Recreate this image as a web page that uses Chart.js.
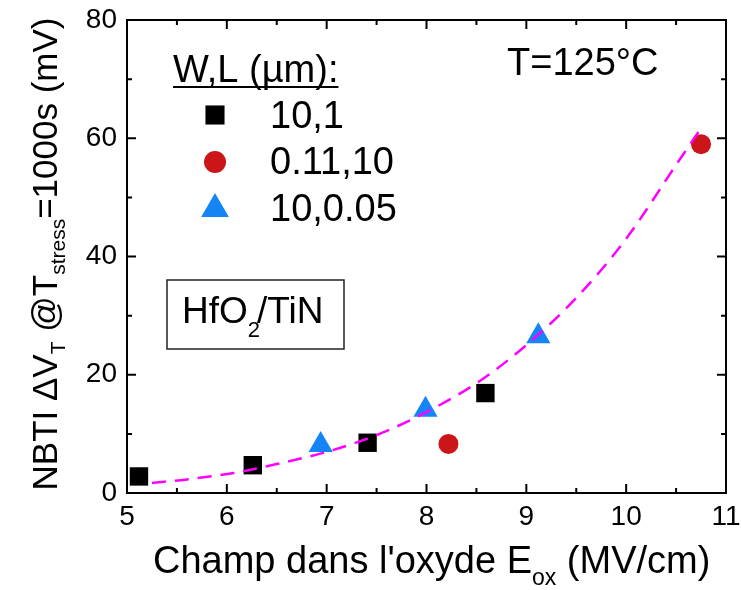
<!DOCTYPE html>
<html>
<head>
<meta charset="utf-8">
<script src="https://cdn.jsdelivr.net/npm/chart.js@4.4.1/dist/chart.umd.min.js"></script>
<style>
  html, body { margin: 0; padding: 0; background: #fff; }
  canvas { display: block; }
</style>
</head>
<body>
<canvas id="nbtiChart" width="741" height="590"></canvas>
<script>
// tick labels
var xTicks = [5, 6, 7, 8, 9, 10, 11];
var yTicks = [0, 20, 40, 60, 80];

// W,L = 10,1 (squares)
var sqX = [5.12, 6.26, 7.41, 8.59];
var sqY = [2.8, 4.7, 8.5, 16.9];

// W,L = 0.11,10 (circles)
var ciX = [8.22, 10.75];
var ciY = [8.3, 59.0];

// W,L = 10,0.05 (triangles)
var trX = [6.94, 7.99, 9.12];
var trY = [8.1, 14.1, 26.5];

// dashed fit curve
var fitX = [5.25, 5.6, 6.07, 6.5, 7.01, 7.5, 7.99, 8.53, 9.02, 9.5, 10.0, 10.5, 10.73];
var fitY = [1.7, 2.3, 3.4, 4.9, 7.0, 9.8, 13.6, 18.9, 25.3, 33.0, 43.0, 55.5, 61.2];

var FONT = '"Liberation Sans", Arial, sans-serif';
Chart.defaults.font.family = FONT;
Chart.defaults.color = '#000';

function pts(xs, ys) {
    return xs.map(function (x, i) { return { x: x, y: ys[i] }; });
}

// text with subscripts: parts = [{t, size, dy}]
function richWidth(ctx, parts) {
    var w = 0;
    parts.forEach(function (p) {
        ctx.font = p.size + 'px ' + FONT;
        w += ctx.measureText(p.t).width + (p.kern || 0);
    });
    return w;
}
function drawRich(ctx, parts, x, y) {
    parts.forEach(function (p) {
        ctx.font = p.size + 'px ' + FONT;
        ctx.fillText(p.t, x, y + (p.dy || 0));
        x += ctx.measureText(p.t).width + (p.kern || 0);
    });
}

var squareStyle = { pointStyle: 'rect', color: '#000000' };
var circleStyle = { pointStyle: 'circle', color: '#cc1518' };
var triStyle = { pointStyle: 'triangle', color: '#1585f5' };

// frame with inside ticks on all four sides, plus labels/legend
var decorations = {
    id: 'decorations',
    afterDraw: function (chart) {
        var ctx = chart.ctx, a = chart.chartArea;
        var xs = chart.scales.x, ys = chart.scales.y;
        ctx.save();
        ctx.strokeStyle = '#000';
        ctx.lineWidth = 2;
        ctx.strokeRect(a.left, a.top, a.right - a.left, a.bottom - a.top);

        function xTick(v, len) {
            var px = xs.getPixelForValue(v);
            ctx.beginPath();
            ctx.moveTo(px, a.bottom); ctx.lineTo(px, a.bottom - len);
            ctx.moveTo(px, a.top); ctx.lineTo(px, a.top + len);
            ctx.stroke();
        }
        function yTick(v, len) {
            var py = ys.getPixelForValue(v);
            ctx.beginPath();
            ctx.moveTo(a.left, py); ctx.lineTo(a.left + len, py);
            ctx.moveTo(a.right, py); ctx.lineTo(a.right - len, py);
            ctx.stroke();
        }
        xTicks.forEach(function (v, i) {
            xTick(v, 9);
            if (i < xTicks.length - 1) xTick((v + xTicks[i + 1]) / 2, 5);
        });
        yTicks.forEach(function (v, i) {
            yTick(v, 9);
            if (i < yTicks.length - 1) yTick((v + yTicks[i + 1]) / 2, 5);
        });

        ctx.fillStyle = '#000';
        ctx.textBaseline = 'alphabetic';
        ctx.textAlign = 'left';

        // x axis title
        var xParts = [
            { t: 'Champ dans l\'oxyde E', size: 38 },
            { t: 'ox', size: 23, dy: 12 },
            { t: ' (MV/cm)', size: 38 }
        ];
        drawRich(ctx, xParts, 153, 573);

        // y axis title (rotated)
        var yParts = [
            { t: 'NBTI \u0394V', size: 35 },
            { t: 'T', size: 21, dy: 8 },
            { t: ' @T', size: 35 },
            { t: 'stress', size: 21, dy: 8 },
            { t: '=1000s (mV)', size: 35 }
        ];
        var yw = richWidth(ctx, yParts);
        ctx.save();
        ctx.translate(57, 254);
        ctx.rotate(-Math.PI / 2);
        drawRich(ctx, yParts, -yw / 2, 0);
        ctx.restore();

        // legend
        ctx.font = '38px ' + FONT;
        var title = 'W,L (\u00b5m):';
        ctx.fillText(title, 173, 82);
        var tw = ctx.measureText(title).width;
        ctx.lineWidth = 2;
        ctx.beginPath();
        ctx.moveTo(173, 87); ctx.lineTo(173 + tw, 87);
        ctx.stroke();

        var entries = [
            { label: '10,1', st: squareStyle, r: 13.5, y: 115, base: 128 },
            { label: '0.11,10', st: circleStyle, r: 11, y: 162, base: 174 },
            { label: '10,0.05', st: triStyle, r: 16, y: 209, base: 221 }
        ];
        entries.forEach(function (e) {
            ctx.fillStyle = e.st.color;
            Chart.helpers.drawPoint(ctx, { pointStyle: e.st.pointStyle, radius: e.r, rotation: 0, borderWidth: 0 }, 215, e.y);
            ctx.fillStyle = '#000';
            ctx.font = '38px ' + FONT;
            ctx.fillText(e.label, 270, e.base);
        });

        // temperature
        ctx.font = '38px ' + FONT;
        ctx.fillText('T=125\u00b0C', 507, 75);

        // material box
        ctx.strokeStyle = '#222';
        ctx.lineWidth = 1.5;
        ctx.strokeRect(167, 280, 177, 69);
        drawRich(ctx, [
            { t: 'HfO', size: 37 },
            { t: '2', size: 22, dy: 14, kern: -3 },
            { t: '/TiN', size: 37 }
        ], 182, 323);

        ctx.restore();
    }
};

var ctx = document.getElementById('nbtiChart').getContext('2d');

var nbtiChart = new Chart(ctx, {
    type: 'scatter',
    data: {
        datasets: [
            {
                label: 'fit',
                type: 'line',
                data: pts(fitX, fitY),
                borderColor: '#ff00ff',
                borderWidth: 2.5,
                borderDash: [14, 9],
                pointRadius: 0,
                fill: false,
                cubicInterpolationMode: 'monotone',
                order: 0
            },
            {
                label: '10,1',
                data: pts(sqX, sqY),
                pointStyle: squareStyle.pointStyle,
                backgroundColor: squareStyle.color,
                pointRadius: 13,
                borderWidth: 0,
                order: 1,
                clip: false
            },
            {
                label: '0.11,10',
                data: pts(ciX, ciY),
                pointStyle: circleStyle.pointStyle,
                backgroundColor: circleStyle.color,
                pointRadius: 10,
                borderWidth: 0,
                order: 1,
                clip: false
            },
            {
                label: '10,0.05',
                data: pts(trX, trY),
                pointStyle: triStyle.pointStyle,
                backgroundColor: triStyle.color,
                pointRadius: 14,
                borderWidth: 0,
                order: 1,
                clip: false
            }
        ]
    },
    options: {
        responsive: false,
        animation: false,
        layout: { padding: { top: 20, right: 15, left: 0, bottom: 0 } },
        plugins: {
            legend: { display: false },
            tooltip: { enabled: false }
        },
        scales: {
            x: {
                type: 'linear',
                min: 5,
                max: 11,
                afterBuildTicks: function (s) { s.ticks = xTicks.map(function (v) { return { value: v }; }); },
                afterFit: function (s) {
                    s.height = 97;
                    s.paddingLeft = 0;
                    s.paddingRight = 0;
                },
                ticks: { font: { size: 28 }, color: '#000', padding: 7, maxRotation: 0 },
                grid: { display: false, drawTicks: false },
                border: { display: false }
            },
            y: {
                type: 'linear',
                min: 0,
                max: 80,
                afterBuildTicks: function (s) { s.ticks = yTicks.map(function (v) { return { value: v }; }); },
                afterFit: function (s) {
                    s.width = 127;
                    s.paddingTop = 0;
                    s.paddingBottom = 0;
                },
                ticks: { font: { size: 28 }, color: '#000', padding: 10 },
                grid: { display: false, drawTicks: false },
                border: { display: false }
            }
        }
    },
    plugins: [decorations]
});
</script>
</body>
</html>
